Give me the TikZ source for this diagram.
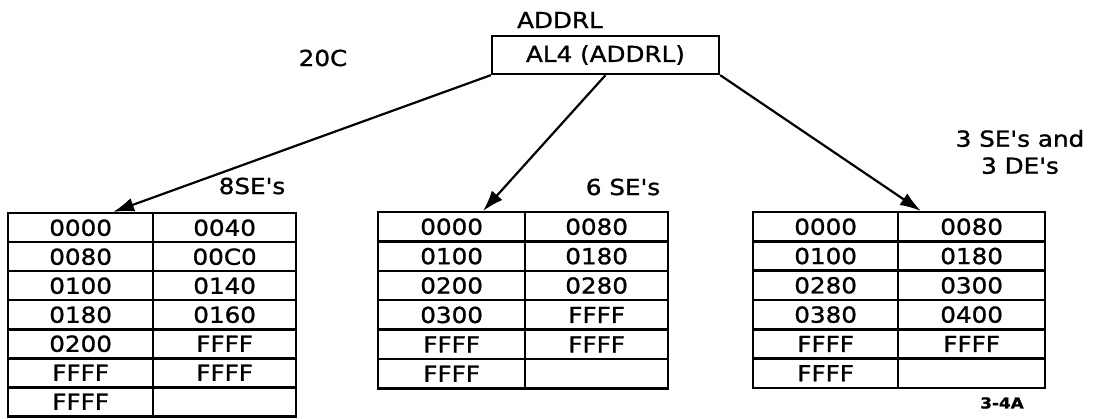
\documentclass[tikz,border=0pt]{standalone}
\usepackage{fontspec}
\usetikzlibrary{arrows.meta,calc}
% plain stroke lettering, widened
\newfontfamily\letterface{DejaVu Sans}[FakeStretch=1.12,FakeBold=1.2]
\newcommand\lettering{\letterface\fontsize{22}{26}\selectfont}
\newcommand\smalllettering{\letterface\bfseries\fontsize{15}{17}\selectfont}
\begin{document}
\begin{tikzpicture}[x=1pt,y=-1pt,
  cell/.style={draw,line width=2.3pt,minimum height=29.2pt,inner sep=0pt,
    anchor=north west,font=\lettering},
  lbl/.style={font=\lettering,inner sep=0pt},
  ptr/.style={line width=2.2pt,-{Latex[length=21pt,width=14pt]}}]
\useasboundingbox (0,0) rectangle (1094,419);

% register and its labels
\node[draw,line width=2.3pt,minimum width=227pt,minimum height=38pt,
  inner sep=0pt,font=\lettering] (al4) at (605.5,55) {AL4 (ADDRL)};
\node[lbl] (addrl) at (560,20) {ADDRL};
\node[lbl] (base) at (323,58) {20C};

% left table: 8 single entries
\foreach \r/\a/\b in {1/0000/0040,2/0080/00C0,3/0100/0140,4/0180/0160,
                      5/0200/FFFF,6/FFFF/FFFF,7/FFFF/} {
  \node[cell,minimum width=145pt] (L\r1) at (7,{212+(\r-1)*29}) {\a};
  \node[cell,minimum width=143pt] (L\r2) at (152,{212+(\r-1)*29}) {\b};
}
\node[lbl] (lcount) at (252,186) {8SE's};

% middle table: 6 single entries
\foreach \r/\a/\b in {1/0000/0080,2/0100/0180,3/0200/0280,4/0300/FFFF,
                      5/FFFF/FFFF,6/FFFF/} {
  \node[cell,minimum width=147pt] (M\r1) at (377,{211+(\r-1)*29.4}) {\a};
  \node[cell,minimum width=143pt] (M\r2) at (524,{211+(\r-1)*29.4}) {\b};
}
\node[lbl] (mcount) at (623,187) {6 SE's};

% right table: 3 single and 3 double entries
\foreach \r/\a/\b in {1/0000/0080,2/0100/0180,3/0280/0300,4/0380/0400,
                      5/FFFF/FFFF,6/FFFF/} {
  \node[cell,minimum width=145pt] (R\r1) at (752,{211+(\r-1)*29.3}) {\a};
  \node[cell,minimum width=147pt] (R\r2) at (897,{211+(\r-1)*29.3}) {\b};
}
\node[lbl,align=center] (rcount) at (1020,152) {3 SE's and\\[1pt]3 DE's};

\node[font=\smalllettering,inner sep=0pt] (fig) at (1002,403) {3-4A};

% pointers into the tables
\coordinate (tipL) at ($(L11.north west)!0.72!(L11.north east)$);
\coordinate (tipM) at ($(M11.north west)!0.71!(M11.north east)$);
\coordinate (tipR) at ($(R12.north west)!0.16!(R12.north east)$);
\draw[ptr] (al4.south west) -- (tipL);
\draw[ptr] (al4.south) -- (tipM);
\draw[ptr] (al4.south east) -- (tipR);
\end{tikzpicture}
\end{document}
